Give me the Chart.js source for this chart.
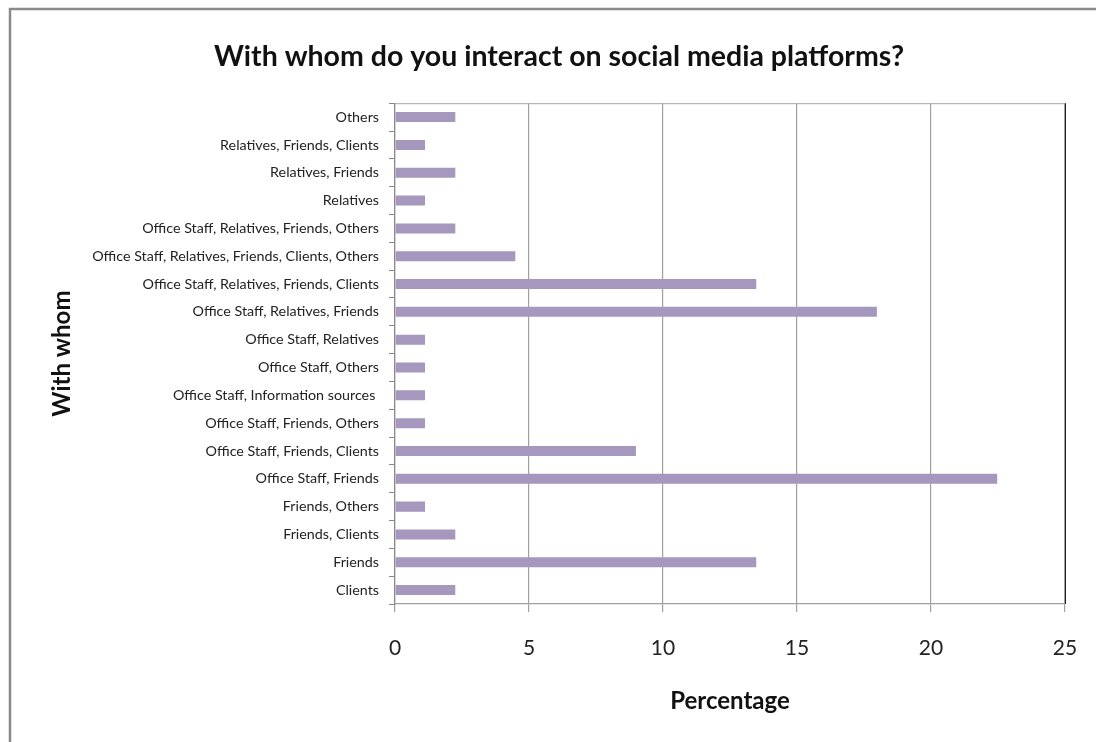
<!DOCTYPE html>
<html>
<head>
<meta charset="utf-8">
<script src="https://cdn.jsdelivr.net/npm/chart.js@4"></script>
<style>
  html, body { margin: 0; padding: 0; background: #fff; }
  #wrap { width: 1096px; height: 742px; position: relative; }
</style>
</head>
<body>
<div id="wrap"><canvas id="c" width="1096" height="742"></canvas></div>
<script>
// Response groups, listed top to bottom
const categories = [
  'Others',
  'Relatives, Friends, Clients',
  'Relatives, Friends',
  'Relatives',
  'Office Staff, Relatives, Friends, Others',
  'Office Staff, Relatives, Friends, Clients, Others',
  'Office Staff, Relatives, Friends, Clients',
  'Office Staff, Relatives, Friends',
  'Office Staff, Relatives',
  'Office Staff, Others',
  'Office Staff, Information sources ',
  'Office Staff, Friends, Others',
  'Office Staff, Friends, Clients',
  'Office Staff, Friends',
  'Friends, Others',
  'Friends, Clients',
  'Friends',
  'Clients'
];

// Share of respondents (%)
const percentages = [
  2.25, 1.12, 2.25, 1.12, 2.25, 4.49, 13.48, 17.98, 1.12,
  1.12, 1.12, 1.12, 8.99, 22.47, 1.12, 2.25, 13.48, 2.25
];

const xTicks = [0, 5, 10, 15, 20, 25];

const FONT = "Lato, 'Open Sans', sans-serif";

// Outer frame and plot-area top/right edges
const framePlugin = {
  id: 'frame',
  afterDraw(chart) {
    const ctx = chart.ctx;
    const a = chart.chartArea;
    ctx.save();
    ctx.lineWidth = 1;
    ctx.strokeStyle = '#a6a6a6';
    ctx.beginPath();
    ctx.moveTo(a.left, a.top + 0.5);
    ctx.lineTo(a.right, a.top + 0.5);
    ctx.stroke();
    ctx.strokeStyle = '#222';
    ctx.beginPath();
    ctx.moveTo(a.right + 0.5, a.top);
    ctx.lineTo(a.right + 0.5, a.bottom);
    ctx.stroke();
    ctx.lineWidth = 2.5;
    ctx.strokeStyle = '#8a8a8a';
    ctx.beginPath();
    ctx.moveTo(10, 742);
    ctx.lineTo(10, 9);
    ctx.lineTo(1096, 9);
    ctx.stroke();
    ctx.restore();
  }
};

new Chart(document.getElementById('c'), {
  type: 'bar',
  data: {
    labels: categories,
    datasets: [{
      data: percentages,
      backgroundColor: '#a597bd',
      borderWidth: 0,
      categoryPercentage: 1,
      barPercentage: 0.36
    }]
  },
  plugins: [framePlugin],
  options: {
    indexAxis: 'y',
    responsive: false,
    animation: false,
    events: [],
    layout: { padding: { left: 53, right: 31, top: 0, bottom: 0 } },
    plugins: {
      legend: { display: false },
      tooltip: { enabled: false },
      title: {
        display: true,
        text: 'With whom do you interact on social media platforms?',
        color: '#111',
        font: { family: FONT, size: 28.5, weight: 'bold' },
        padding: { top: 40, bottom: 29 }
      }
    },
    scales: {
      x: {
        type: 'linear',
        min: 0,
        max: 25,
        afterBuildTicks(scale) {
          scale.ticks = xTicks.map(v => ({ value: v }));
        },
        afterFit(scale) {
          scale.height = 742 - 604;
          scale.paddingLeft = 0;
          scale.paddingRight = 0;
        },
        ticks: {
          color: '#222',
          font: { family: FONT, size: 21 },
          padding: 24
        },
        grid: {
          color: '#a0a0a0',
          lineWidth: 1.2,
          tickLength: 8,
          drawTicks: true
        },
        border: { color: '#a0a0a0', width: 1.2 },
        title: {
          display: true,
          text: 'Percentage',
          color: '#111',
          font: { family: FONT, size: 24, weight: 'bold' },
          padding: { top: 0, bottom: 26 }
        }
      },
      y: {
        type: 'category',
        afterFit(scale) {
          scale.width = 342;
          scale.paddingTop = 0;
          scale.paddingBottom = 0;
        },
        ticks: {
          color: '#222',
          font: { family: FONT, size: 14.3 },
          padding: 10
        },
        grid: {
          drawOnChartArea: false,
          color: '#888',
          tickLength: 6,
          offset: true
        },
        border: { color: '#888', width: 1.2 },
        title: {
          display: true,
          text: 'With whom',
          color: '#111',
          font: { family: FONT, size: 24, weight: 'bold' },
          padding: { top: -5, bottom: 0 }
        }
      }
    }
  }
});
</script>
</body>
</html>
